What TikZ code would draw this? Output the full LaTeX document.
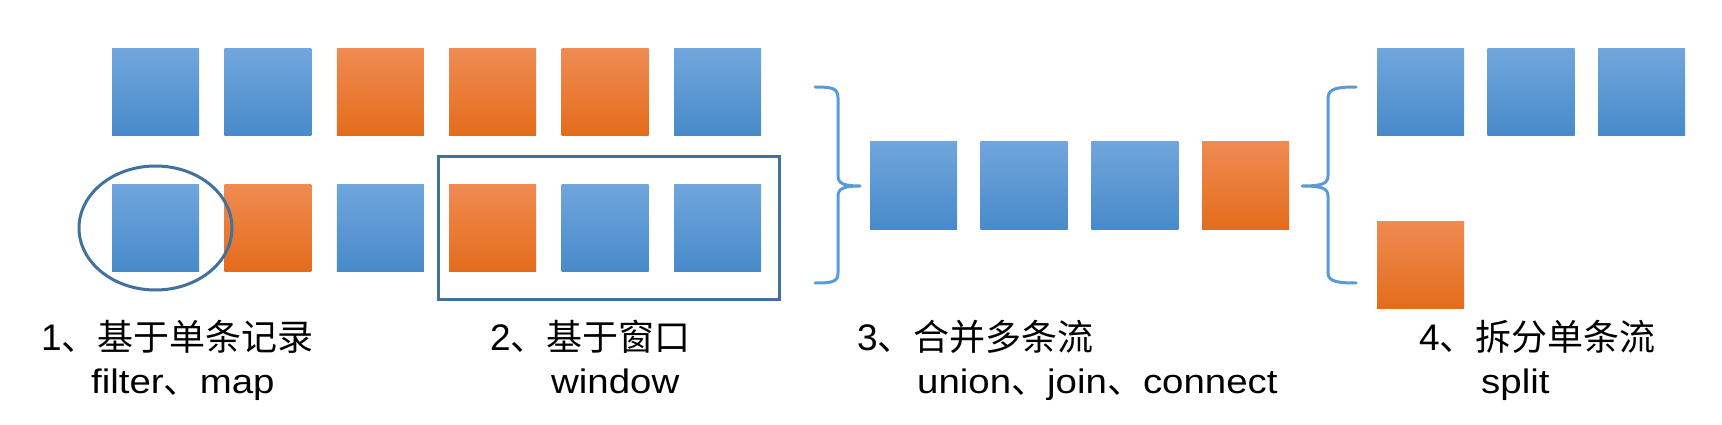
\documentclass[tikz,border=0pt]{standalone}
\usepackage{fontspec}
\setmainfont{Liberation Sans}
\newfontfamily\cjk{Noto Sans CJK SC}
\newfontfamily\latw[FakeStretch=1.13]{Liberation Sans}
\definecolor{bluetop}{RGB}{112,166,220}
\definecolor{bluemid}{RGB}{88,155,217}
\definecolor{bluebot}{RGB}{72,138,202}
\definecolor{orgtop}{RGB}{239,139,82}
\definecolor{orgmid}{RGB}{242,121,38}
\definecolor{orgbot}{RGB}{228,108,28}
\definecolor{frame}{RGB}{65,113,156}
\definecolor{brace}{RGB}{91,155,213}
\tikzset{
  sq/.style={anchor=north west, minimum width=87pt, minimum height=87pt, inner sep=0pt, outer sep=0pt},
  bsq/.style={sq, top color=bluetop, middle color=bluemid, bottom color=bluebot},
  osq/.style={sq, top color=orgtop, middle color=orgmid, bottom color=orgbot},
  markline/.style={draw=frame, line width=3pt},
  bracket/.style={draw=brace, line width=3pt, line cap=round, line join=round},
  head/.style={anchor=base west, inner sep=0pt, font=\fontsize{37}{40}\selectfont},
  sub/.style={anchor=base west, inner sep=0pt, font=\latw\fontsize{34}{38}\selectfont},
}
\newcommand{\cj}[1]{{\cjk\fontsize{36}{40}\selectfont #1}}
\begin{document}
\begin{tikzpicture}[x=1pt,y=-1pt]
\useasboundingbox (0,0) rectangle (1722,425);
% row 1
\node[bsq] (a1) at (112,49) {};
\node[bsq] (a2) at (224.4,49) {};
\node[osq] (a3) at (336.8,49) {};
\node[osq] (a4) at (449.2,49) {};
\node[osq] (a5) at (561.6,49) {};
\node[bsq] (a6) at (674,49) {};
% row 2
\node[bsq] (b1) at (112,184) {};
\node[osq] (b2) at (224.4,184) {};
\node[bsq] (b3) at (336.8,184) {};
\node[osq] (b4) at (449.2,184) {};
\node[bsq] (b5) at (561.6,184) {};
\node[bsq] (b6) at (674,184) {};
% merged
\node[bsq] (m1) at (870,142) {};
\node[bsq] (m2) at (980.7,142) {};
\node[bsq] (m3) at (1091.3,142) {};
\node[osq] (m4) at (1202,142) {};
% split
\node[bsq] (s1) at (1377,49) {};
\node[bsq] (s2) at (1487.5,49) {};
\node[bsq] (s3) at (1598,49) {};
\node[osq] (s4) at (1377,221) {};
% ellipse and window
\draw[markline] (155.5,228) ellipse [x radius=76.5, y radius=62];
\draw[markline] (438,157) rectangle (779,299);
% brackets
\draw[bracket] (815,87) .. controls (832,87) and (838,88) .. (838,98) -- (838,176)
  .. controls (838,184) and (845,186) .. (860,186)
  .. controls (845,186) and (838,188) .. (838,196) -- (838,273)
  .. controls (838,282) and (832,283) .. (815,283);
\draw[bracket] (1356,87) .. controls (1339,87) and (1328,88) .. (1328,98) -- (1328,176)
  .. controls (1328,184) and (1321,186) .. (1302,186)
  .. controls (1321,186) and (1328,188) .. (1328,196) -- (1328,273)
  .. controls (1328,282) and (1339,283) .. (1356,283);
% labels
\node[head] (t1) at (41,350) {1\cj{、基于单条记录}};
\node[sub] (u1) at (91,393) {filter\cj{、}map};
\node[head] (t2) at (490,350) {2\cj{、基于窗口}};
\node[sub] (u2) at (551,393) {window};
\node[head] (t3) at (857,350) {3\cj{、合并多条流}};
\node[sub] (u3) at (917,393) {union\cj{、}join\cj{、}connect};
\node[head] (t4) at (1419,350) {4\cj{、拆分单条流}};
\node[sub] (u4) at (1481,393) {split};
\end{tikzpicture}
\end{document}
